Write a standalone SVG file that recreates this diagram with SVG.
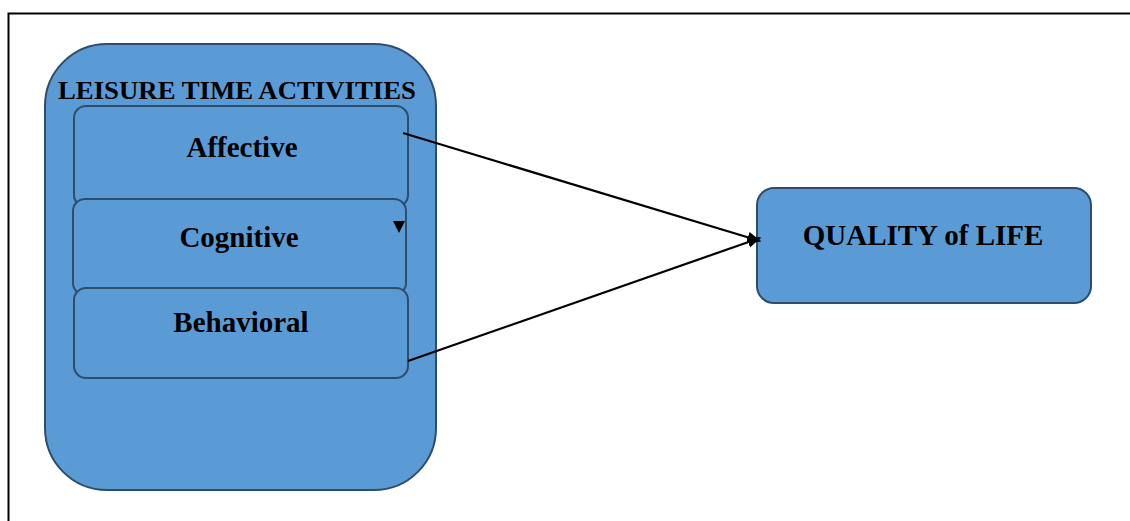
<svg xmlns="http://www.w3.org/2000/svg" width="1130" height="521" viewBox="0 0 1130 521">
<style>
.box{fill:#5b9bd5;stroke:#2e4d6c;stroke-width:2}
.t{font-family:"Liberation Serif",serif;font-weight:bold;fill:#000;text-anchor:middle}
.c{stroke:#000;stroke-width:2.2;fill:none}
</style>
<defs>
<marker id="a" viewBox="0 0 10 10" refX="9" refY="5" markerWidth="14" markerHeight="14" orient="auto" markerUnits="userSpaceOnUse">
<path d="M0,1 L10,5 L0,9 z" fill="#000"/>
</marker>
</defs>
<rect x="0" y="0" width="1130" height="521" fill="#fff"/>
<path d="M8.5,521 V13.5 H1130" fill="none" stroke="#000" stroke-width="2"/>
<g id="leisure">
<rect class="box" x="45" y="44" width="391" height="446" rx="62"/>
<text class="t" x="237" y="99" font-size="26" textLength="358" lengthAdjust="spacingAndGlyphs">LEISURE TIME ACTIVITIES</text>
</g>
<g id="affective">
<rect class="box" x="74" y="106" width="334" height="101" rx="12"/>
<text class="t" x="242" y="157" font-size="29">Affective</text>
</g>
<g id="cognitive">
<rect class="box" x="73" y="199" width="333" height="96" rx="12"/>
<text class="t" x="239" y="247" font-size="29">Cognitive</text>
<path d="M393,221 L405,221 L399,233 z" fill="#000"/>
</g>
<g id="behavioral">
<rect class="box" x="74" y="288" width="334" height="90" rx="12"/>
<text class="t" x="241" y="332" font-size="29">Behavioral</text>
</g>
<g id="quality">
<rect class="box" x="757" y="188" width="334" height="115" rx="17"/>
<text class="t" x="923" y="245" font-size="29">QUALITY of LIFE</text>
</g>
<g id="connectors">
<line class="c" x1="403" y1="133" x2="760" y2="241" marker-end="url(#a)"/>
<line class="c" x1="408" y1="361" x2="760" y2="238" marker-end="url(#a)"/>
</g>
</svg>
